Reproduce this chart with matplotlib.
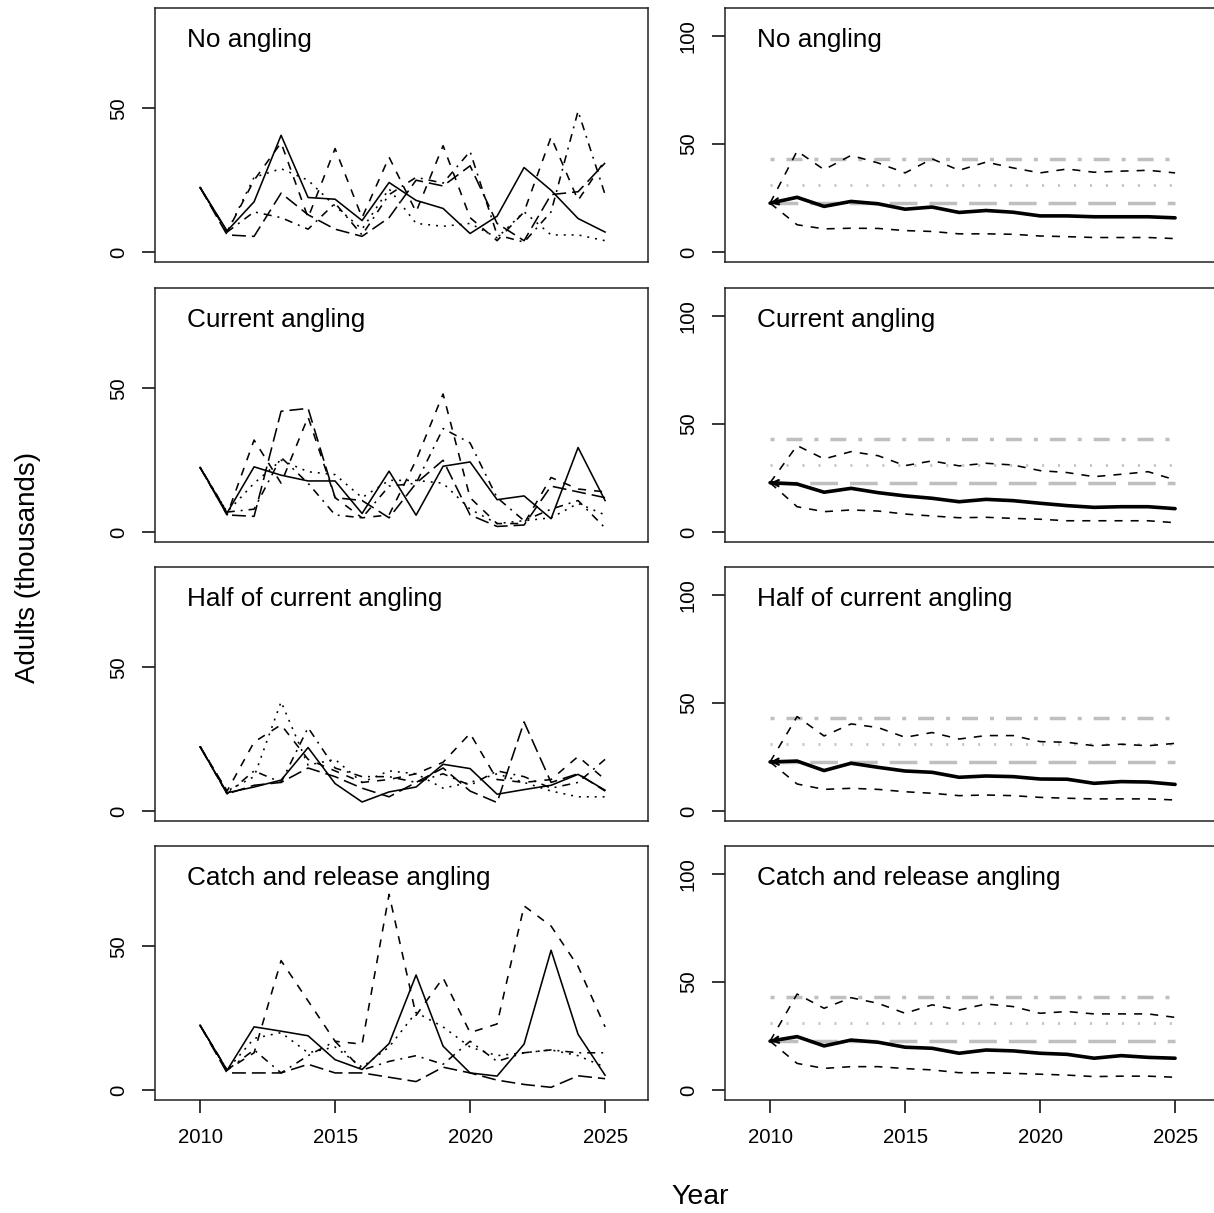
import numpy as np
import matplotlib
matplotlib.use("Agg")
import matplotlib.pyplot as plt

plt.rcParams['font.family'] = ['Liberation Sans', 'DejaVu Sans']
plt.rcParams['lines.scale_dashes'] = False

years = np.arange(2010, 2026)
scenarios = ["No angling", "Current angling", "Half of current angling",
             "Catch and release angling"]

# sample trajectories (thousands of adults), one list per line type
traj_no = [
    [22.5, 7.4, 17.5, 40.6, 19, 18.4, 11, 24.2, 18, 15.2, 6.5, 12.5, 29.4, 21.5, 11.7, 7],
    [22.5, 7, 25, 38, 12, 36, 12, 33, 14, 37, 12, 4, 14, 40, 18, 32],
    [22.5, 7, 26, 29, 25, 16, 8, 22, 10, 9, 10, 5, 14, 6, 6, 4],
    [22.5, 7, 14, 12, 8, 17, 6, 20, 26, 24, 35, 6, 3.5, 14, 49, 20],
    [22.5, 6, 5.5, 20.5, 13, 8, 5.5, 12, 25, 23, 30, 10, 4, 20, 21, 31],
]
traj_cur = [
    [22.5, 6.7, 22.7, 19.8, 17.8, 17.8, 6.5, 21.2, 5.9, 22.9, 24.4, 11.3, 12.6, 4.7, 29.4, 11],
    [22.5, 6, 32, 17, 40, 12, 5, 6, 25, 48, 12, 3, 3, 19, 15, 14],
    [22.5, 7, 17, 25, 21, 20, 12, 18, 18, 17, 8, 3, 4, 5, 10, 6],
    [22.5, 7, 8, 26, 17, 6, 5, 16, 17, 36, 31, 12, 4, 8, 11, 1.5],
    [22.5, 6, 5.5, 42, 43, 12, 11, 5, 17, 25, 6, 2, 2.5, 16, 14, 12],
]
traj_half = [
    [22.3, 6.4, 8.4, 10.8, 22.1, 9.6, 3.2, 6.7, 8.4, 16.3, 14.8, 5.9, 7.5, 9, 12.8, 7.3],
    [22.5, 7, 24, 30, 18, 14, 10, 11, 13, 17, 27, 11, 10, 11, 19, 11],
    [22.5, 7, 12, 38, 16, 18, 10, 14, 13, 8, 10, 13, 10, 7, 5, 5],
    [22.5, 6, 14, 10, 29, 15, 12, 12, 10, 13, 9, 14, 12, 8, 10, 18],
    [22.5, 6, 9, 10, 15, 12, 8, 5, 10, 15, 7, 3, 31, 10, 13, 7],
]
traj_cr = [
    [22.6, 6.9, 22, 20.5, 18.9, 10.6, 7.2, 16.2, 40, 15.3, 6, 4.9, 16, 48.6, 19.4, 5.2],
    [22.5, 7, 13, 45, 31, 17, 16, 68, 26, 39, 20, 23, 64, 57, 43, 22],
    [22.5, 7, 18, 20, 13, 15, 8, 15, 27, 22, 15, 12, 13, 14, 12, 8],
    [22.5, 7, 14, 6, 12, 17, 7, 10, 12, 9, 17, 10, 13, 14, 13, 13],
    [22.5, 6, 6, 6, 9, 6, 6, 4.5, 3, 8, 6, 3.5, 2, 1, 5, 4],
]
trajectories = [traj_no, traj_cur, traj_half, traj_cr]

# medians and 95% intervals
med_no = [22.6, 25.3, 21.1, 23.4, 22.3, 19.8, 20.8, 18.3, 19.2, 18.4, 16.7, 16.7, 16.3, 16.3, 16.3, 15.8]
hi_no = [22.6, 46.7, 38.1, 44.7, 41.2, 36.6, 43.1, 37.8, 41.6, 38.9, 36.6, 38.4, 36.9, 37.4, 37.8, 36.6]
lo_no = [22.6, 12.6, 10.7, 11, 10.9, 9.9, 9.5, 8.4, 8.4, 8.2, 7.4, 7.1, 6.7, 6.7, 6.7, 6.2]
med_cur = [22.8, 22.2, 18.4, 20.2, 18.2, 16.7, 15.6, 14, 15.1, 14.5, 13.3, 12.2, 11.4, 11.7, 11.7, 10.8]
hi_cur = [22.8, 40, 33.8, 37.2, 35.3, 30.7, 32.9, 30.6, 31.8, 31, 28.4, 27.5, 25.6, 26.7, 27.9, 24.1]
lo_cur = [22.8, 11.7, 9.4, 10.2, 9.7, 8.3, 7.4, 6.6, 6.8, 6.3, 5.9, 5.2, 5.2, 5.2, 5.2, 4.3]
med_half = [22.7, 23.1, 18.7, 22.1, 20.2, 18.5, 17.9, 15.6, 16.2, 15.9, 14.8, 14.7, 12.8, 13.6, 13.4, 12.3]
hi_half = [22.7, 43.7, 34.7, 40.3, 38.6, 34.1, 36.3, 33.3, 34.9, 34.9, 32.1, 31.8, 30.2, 30.9, 30.2, 31.3]
lo_half = [22.7, 12.5, 10, 10.5, 10, 8.9, 8.2, 7.1, 7.4, 7.1, 6.3, 5.9, 5.6, 5.6, 5.6, 5.1]
med_cr = [22.6, 24.7, 20.4, 23.1, 22.1, 19.8, 19.3, 17, 18.5, 18.1, 17, 16.5, 14.7, 15.9, 15.1, 14.7]
hi_cr = [22.6, 44.4, 37.8, 42.7, 40.1, 35.5, 39.4, 37, 39.8, 38.6, 35.5, 36.3, 35.2, 35.2, 35.2, 33.6]
lo_cr = [22.6, 12.3, 10, 10.8, 10.8, 9.9, 9.3, 8, 8, 7.7, 7.3, 6.9, 6.2, 6.4, 6.4, 5.9]
medians = [med_no, med_cur, med_half, med_cr]
uppers = [hi_no, hi_cur, hi_half, hi_cr]
lowers = [lo_no, lo_cur, lo_half, lo_cr]

# reference levels
ref_start = 22.6
ref_mid = 31.0
ref_high = 42.9

# R-like line types (points)
LTY = ['-', (0, (5.8, 5.8)), (0, (1.4, 4.3)), (0, (1.4, 4.3, 5.8, 4.3)), (0, (10, 4.3))]

W, H = 1214, 1213
fig = plt.figure(figsize=(W / 100, H / 100), dpi=100)


def rect(x0, x1, top, bottom):
    return [x0 / W, 1 - bottom / H, (x1 - x0) / W, (bottom - top) / H]


row_tops = [8, 288, 567, 846]
ph = 254

for r in range(4):
    top = row_tops[r]
    axl = fig.add_axes(rect(155, 648, top, top + ph))
    axr = fig.add_axes(rect(725, 1218, top, top + ph))

    for i, tr in enumerate(trajectories[r]):
        axl.plot(years, tr, color='black', lw=1.15, linestyle=LTY[i])
    axl.set_ylim(-3.4, 84.8)
    axl.set_yticks([0, 50])

    axr.plot(years, [ref_high] * len(years), color='#bfbfbf', lw=2.5,
             linestyle=(0, (2.9, 8.6, 11.5, 8.6)))
    axr.plot(years, [ref_mid] * len(years), color='#c4c4c4', lw=2.0,
             linestyle=(0, (1.5, 10)))
    axr.plot(years, [ref_start] * len(years), color='#bfbfbf', lw=2.5,
             linestyle=(0, (20, 8.6)))
    axr.plot(years, uppers[r], color='black', lw=1.15, linestyle=(0, (5.8, 5.8)))
    axr.plot(years, lowers[r], color='black', lw=1.15, linestyle=(0, (5.8, 5.8)))
    axr.plot(years, medians[r], color='black', lw=2.6, solid_capstyle='round')
    axr.annotate('', xy=(years[0], medians[r][0]), xytext=(years[1], medians[r][1]),
                 arrowprops=dict(arrowstyle='->', lw=1.6, color='black',
                                 shrinkA=0, shrinkB=0, mutation_scale=11))
    axr.set_ylim(-4.63, 112.9)
    axr.set_yticks([0, 50, 100])

    for ax in (axl, axr):
        ax.set_xlim(2008.33, 2026.59)
        ax.text(0.065, 0.874, scenarios[r], transform=ax.transAxes,
                fontsize=18.8, va='center', ha='left')
        for s in ax.spines.values():
            s.set_linewidth(1.1)
            s.set_color('#222222')
        ax.tick_params(axis='y', length=9.4, width=1.1, pad=17, labelsize=14.7)
        for lab in ax.get_yticklabels():
            lab.set_rotation(90)
            lab.set_ha('center')
            lab.set_va('center')
        if r == 3:
            ax.set_xticks([2010, 2015, 2020, 2025])
            ax.tick_params(axis='x', length=9.4, width=1.1, pad=11, labelsize=14.7)
        else:
            ax.set_xticks([])

fig.text(700 / W, 1 - 1197 / H, 'Year', fontsize=20.5, ha='center', va='center')
fig.text(28 / W, 1 - 567 / H, 'Adults (thousands)', fontsize=20, ha='center',
         va='center', rotation=90)

fig.savefig('out.png', dpi=100)
